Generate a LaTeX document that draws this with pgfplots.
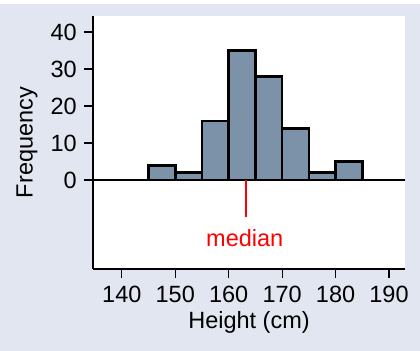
\documentclass[border=0pt]{standalone}
\usepackage{fontspec}
\setmainfont{Liberation Sans}
\usepackage{pgfplots}
\pgfplotsset{compat=1.18}
\definecolor{bg}{RGB}{225,230,240}
\definecolor{barc}{RGB}{123,146,169}
\begin{document}
\fontsize{24bp}{28bp}\selectfont
\begin{tikzpicture}[x=1bp,y=1bp]
\fill[white] (0,0) rectangle (420,351);
\fill[bg] (0,0) rectangle (420,347);
\begin{axis}[at={(93bp,82bp)}, anchor=south west, scale only axis,
  width=312bp, height=253bp,
  xmin=134.6, xmax=193, ymin=-24, ymax=44.3,
  axis x line*=bottom, axis y line*=left,
  axis background/.style={fill=white},
  axis line style={-, line width=1.2bp},
  ytick={0,10,20,30,40}, xtick={140,150,160,170,180,190},
  tick align=outside, major tick length=9bp,
  tick style={black, line width=1.2bp},
  /pgf/number format/assume math mode=true,
  /pgf/number format/1000 sep={},
  tick label style={font=\fontsize{23.5bp}{28bp}\selectfont},
  yticklabel style={xshift=1bp},
  label style={font=\fontsize{23.5bp}{28bp}\selectfont},
  xlabel={Height (cm)}, ylabel={Frequency},
  x label style={at={(axis description cs:0.5,-0.2095)}, anchor=center},
  y label style={at={(axis description cs:-0.2115,0.5)}, anchor=center},
  clip=false,
]
\addplot[ybar interval, fill=barc, draw=black, line width=2.6bp]
  coordinates {(145,4) (150,2) (155,16) (160,35) (165,28) (170,14) (175,2) (180,5) (185,0)};
\addplot[black, line width=2.4bp] coordinates {(134.6,0) (193,0)};
\addplot[red, line width=2bp] coordinates {(163.2,0) (163.2,-10)};
\node[red, font=\fontsize{23.5bp}{28bp}\selectfont] at (axis cs:163.0,-15.6) {median};
\end{axis}
\end{tikzpicture}
\end{document}
